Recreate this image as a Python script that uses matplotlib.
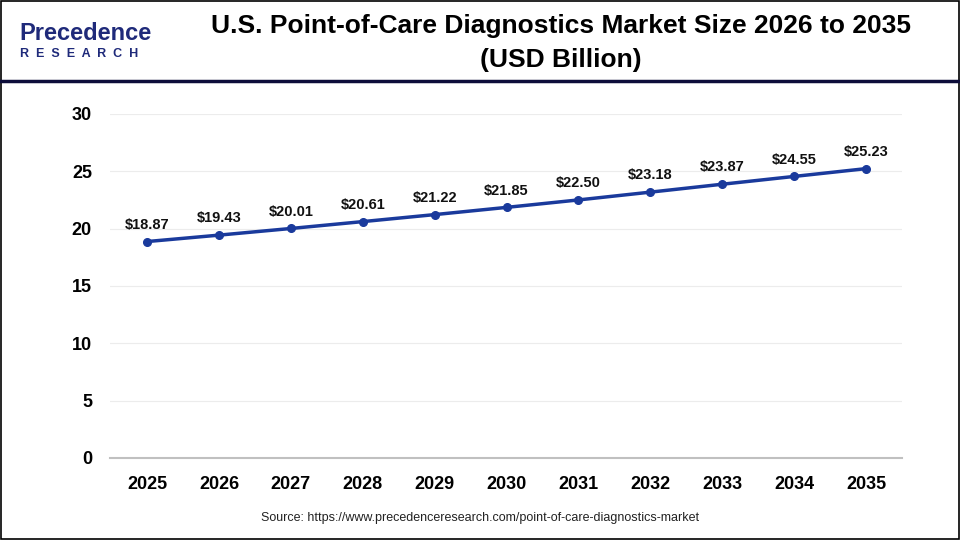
import numpy as np
import matplotlib.pyplot as plt
from matplotlib.lines import Line2D
from matplotlib.patches import Rectangle

years = ['2025', '2026', '2027', '2028', '2029', '2030', '2031', '2032', '2033', '2034', '2035']
values = [18.87, 19.43, 20.01, 20.61, 21.22, 21.85, 22.50, 23.18, 23.87, 24.55, 25.23]
yticks = [0, 5, 10, 15, 20, 25, 30]

plt.rcParams['font.family'] = ['Liberation Sans', 'DejaVu Sans']

fig = plt.figure(figsize=(9.6, 5.4), dpi=100)
ax = fig.add_axes([0.1146, 0.152, 0.825, 0.637])

x = np.arange(len(years))
ax.plot(x, values, color='#1a3a9c', lw=2.5, marker='o', ms=5.5, zorder=3)
for xi, v in zip(x, values):
	ax.text(xi, v + 0.85, '$%.2f' % v, ha='center', va='bottom', fontsize=10.5, fontweight='bold', color='#111111')

ax.set_xlim(-0.515, 10.5)
ax.set_ylim(0, 30)
ax.set_yticks(yticks)
ax.set_xticks(x)
ax.set_xticklabels(years)
ax.tick_params(axis='both', length=0, labelsize=13)
ax.tick_params(axis='x', pad=13)
ax.tick_params(axis='y', pad=13)
for lab in ax.get_xticklabels() + ax.get_yticklabels():
	lab.set_fontweight('bold')
ax.grid(axis='y', color='#ececec', lw=0.8)
ax.set_axisbelow(True)
for s in ['top', 'right', 'left']:
	ax.spines[s].set_visible(False)
ax.spines['bottom'].set_color('#c0c0c0')
ax.spines['bottom'].set_linewidth(1.5)

# header
fig.add_artist(Line2D([0, 1], [1 - 81 / 540, 1 - 81 / 540], color='#0d0d3a', lw=2.5))
fig.add_artist(Rectangle((0.001, 0.002), 0.998, 0.996, fill=False, ec='black', lw=1.2))
fig.text(0.584, 0.951, 'U.S. Point-of-Care Diagnostics Market Size 2026 to 2035', ha='center', va='center', fontsize=19, fontweight='bold')
fig.text(0.584, 0.889, '(USD Billion)', ha='center', va='center', fontsize=19, fontweight='bold')

# logo
fig.text(0.020, 0.938, 'Precedence', ha='left', va='center', fontsize=17, color='#1f2a7a', fontweight='bold')
fig.text(0.021, 0.900, 'R  E  S  E  A  R  C  H', ha='left', va='center', fontsize=9, color='#1f2a7a', fontweight='bold')

fig.text(0.5, 0.040, 'Source: https://www.precedenceresearch.com/point-of-care-diagnostics-market', ha='center', va='center', fontsize=9, color='#222222')

fig.savefig('out.png', dpi=100)
